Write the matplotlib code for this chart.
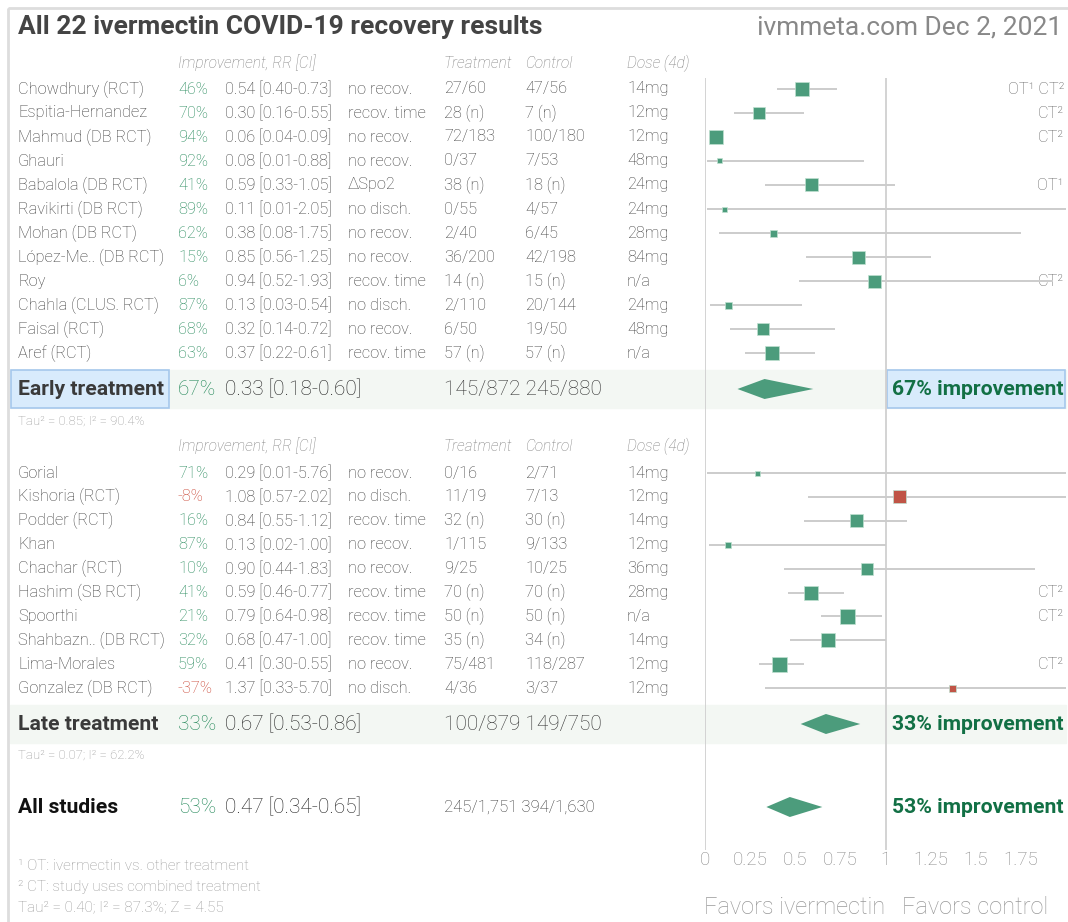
import matplotlib
matplotlib.use("Agg")
import matplotlib.pyplot as plt
from matplotlib.patches import Rectangle

plt.rcParams['font.family'] = ['Roboto', 'DejaVu Sans']

# ---- data ----
early_names = ['Chowdhury (RCT)', 'Espitia-Hernandez', 'Mahmud (DB RCT)', 'Ghauri',
               'Babalola (DB RCT)', 'Ravikirti (DB RCT)', 'Mohan (DB RCT)',
               'López-Me.. (DB RCT)', 'Roy', 'Chahla (CLUS. RCT)', 'Faisal (RCT)', 'Aref (RCT)']
early_pct = [46, 70, 94, 92, 41, 89, 62, 15, 6, 87, 68, 63]
early_rr = [0.54, 0.30, 0.06, 0.08, 0.59, 0.11, 0.38, 0.85, 0.94, 0.13, 0.32, 0.37]
early_lo = [0.40, 0.16, 0.04, 0.01, 0.33, 0.01, 0.08, 0.56, 0.52, 0.03, 0.14, 0.22]
early_hi = [0.73, 0.55, 0.09, 0.88, 1.05, 2.05, 1.75, 1.25, 1.93, 0.54, 0.72, 0.61]
early_outcome = ['no recov.', 'recov. time', 'no recov.', 'no recov.', 'ΔSpo2', 'no disch.',
                 'no recov.', 'no recov.', 'recov. time', 'no disch.', 'no recov.', 'recov. time']
early_treat = ['27/60', '28 (n)', '72/183', '0/37', '38 (n)', '0/55', '2/40', '36/200',
               '14 (n)', '2/110', '6/50', '57 (n)']
early_ctrl = ['47/56', '7 (n)', '100/180', '7/53', '18 (n)', '4/57', '6/45', '42/198',
              '15 (n)', '20/144', '19/50', '57 (n)']
early_dose = ['14mg', '12mg', '12mg', '48mg', '24mg', '24mg', '28mg', '84mg', 'n/a',
              '24mg', '48mg', 'n/a']
early_notes = ['OT¹ CT²', 'CT²', 'CT²', '', 'OT¹', '', '', '', 'CT²', '', '', '']
early_box = [14, 12, 14, 5, 13, 5, 7, 13, 13, 7, 12, 14]

late_names = ['Gorial', 'Kishoria (RCT)', 'Podder (RCT)', 'Khan', 'Chachar (RCT)',
              'Hashim (SB RCT)', 'Spoorthi', 'Shahbazn.. (DB RCT)', 'Lima-Morales',
              'Gonzalez (DB RCT)']
late_pct = [71, -8, 16, 87, 10, 41, 21, 32, 59, -37]
late_rr = [0.29, 1.08, 0.84, 0.13, 0.90, 0.59, 0.79, 0.68, 0.41, 1.37]
late_lo = [0.01, 0.57, 0.55, 0.02, 0.44, 0.46, 0.64, 0.47, 0.30, 0.33]
late_hi = [5.76, 2.02, 1.12, 1.00, 1.83, 0.77, 0.98, 1.00, 0.55, 5.70]
late_outcome = ['no recov.', 'no disch.', 'recov. time', 'no recov.', 'no recov.',
                'recov. time', 'recov. time', 'recov. time', 'no recov.', 'no disch.']
late_treat = ['0/16', '11/19', '32 (n)', '1/115', '9/25', '70 (n)', '50 (n)', '35 (n)',
              '75/481', '4/36']
late_ctrl = ['2/71', '7/13', '30 (n)', '9/133', '10/25', '70 (n)', '50 (n)', '34 (n)',
             '118/287', '3/37']
late_dose = ['14mg', '12mg', '14mg', '12mg', '36mg', '28mg', 'n/a', '14mg', '12mg', '12mg']
late_notes = ['', '', '', '', '', 'CT²', 'CT²', '', 'CT²', '']
late_box = [5, 13, 13, 6, 12, 14, 15, 14, 15, 7]

summary_names = ['Early treatment', 'Late treatment', 'All studies']
summary_pct = [67, 33, 53]
summary_rr = [0.33, 0.67, 0.47]
summary_lo = [0.18, 0.53, 0.34]
summary_hi = [0.60, 0.86, 0.65]
summary_counts = ['145/872 245/880', '100/879 149/750', '245/1,751 394/1,630']
summary_tau = ['Tau² = 0.85; I² = 90.4%', 'Tau² = 0.07; I² = 62.2%']

ticks = [0, 0.25, 0.5, 0.75, 1, 1.25, 1.5, 1.75]
tick_labels = ['0', '0.25', '0.5', '0.75', '1', '1.25', '1.5', '1.75']

# ---- colours ----
GREEN = '#4c9c7c'
GREEN_TXT = '#1f8656'
DARK_GREEN = '#127045'
RED = '#c05446'
RED_TXT = '#c8402f'
GREY = '#3c3c3c'
LIGHT = '#cccccc'
FS = 11.8

fig = plt.figure(figsize=(10.68, 9.22), dpi=100)
ax = fig.add_axes([0, 0, 1, 1])
ax.set_xlim(0, 1068)
ax.set_ylim(922, 0)
ax.axis('off')

# forest axes: RR scale
fx = fig.add_axes([705 / 1068, 0, (1066 - 705) / 1068, 1])
fx.set_xlim(0, 2.0)
fx.set_ylim(922, 0)
fx.axis('off')
fx.patch.set_alpha(0)

# frame
ax.add_patch(Rectangle((8, 8), 1070, 930, fill=False, edgecolor='#dddddd', lw=2))

ax.text(18, 27, 'All 22 ivermectin COVID-19 recovery results', fontsize=19,
        fontweight='bold', color='#444444', va='center')
ax.text(1062, 27, 'ivmmeta.com Dec 2, 2021', fontsize=19, color='#888888',
        va='center', ha='right')

COLX = [18, 178, 225, 348, 444, 525, 627]


def header(y):
    for x, s in zip([178, 444, 525, 627],
                    ['Improvement, RR [CI]', 'Treatment', 'Control', 'Dose (4d)']):
        ax.text(x, y, s, fontsize=11.2, style='italic', color='#808080', va='center',
                fontweight='light')


def rows(ys, names, pct, rr, lo, hi, outcome, treat, ctrl, dose, notes, box):
    kw = dict(fontsize=FS, va='center', fontweight='light')
    for i, y in enumerate(ys):
        ax.text(COLX[0], y, names[i], color=GREY, **kw)
        ax.text(COLX[1], y, '%d%%' % pct[i],
                color=GREEN_TXT if pct[i] >= 0 else RED_TXT, **kw)
        ax.text(COLX[2], y, '%.2f [%.2f-%.2f]' % (rr[i], lo[i], hi[i]), color=GREY, **kw)
        ax.text(COLX[3], y, outcome[i], color=GREY, **kw)
        ax.text(COLX[4], y, treat[i], color=GREY, **kw)
        ax.text(COLX[5], y, ctrl[i], color=GREY, **kw)
        ax.text(COLX[6], y, dose[i], color=GREY, **kw)
        if notes[i]:
            ax.text(1064, y, notes[i], color='#666666', ha='right', **kw)
    fx.hlines(ys, lo, hi, color=LIGHT, lw=1.4, zorder=2)
    cols = [GREEN if r < 1 else RED for r in rr]
    fx.scatter(rr, ys, marker='s', s=[(b * 0.72) ** 2 for b in box], c=cols,
               edgecolors='#bfe0d0', linewidths=0.5, zorder=3)


early_y = [89 + 24 * i for i in range(len(early_names))]
late_y = [473 + 23.9 * i for i in range(len(late_names))]
sum_y = [389, 724, 807]

# vertical reference lines
fx.vlines([0, 1], 78, 850, color='#d0d0d0', lw=1.3, zorder=1)

# summary bands
for y in sum_y[:2]:
    ax.add_patch(Rectangle((10, y - 19), 1056, 38, color='#f3f7f3', zorder=0))
ax.add_patch(Rectangle((11, sum_y[0] - 19), 158, 38, facecolor='#d8ebfc',
                       edgecolor='#a5c8ec', lw=1.2, zorder=1))
ax.add_patch(Rectangle((887, sum_y[0] - 19), 178, 38, facecolor='#d8ebfc',
                       edgecolor='#a5c8ec', lw=1.2, zorder=1))

header(63)
rows(early_y, early_names, early_pct, early_rr, early_lo, early_hi, early_outcome,
     early_treat, early_ctrl, early_dose, early_notes, early_box)
header(446)
rows(late_y, late_names, late_pct, late_rr, late_lo, late_hi, late_outcome,
     late_treat, late_ctrl, late_dose, late_notes, late_box)

for i, y in enumerate(sum_y):
    ax.text(18, y, summary_names[i], fontsize=15.2, fontweight='bold',
            color='#111111' if i == 2 else '#3a3a3a', va='center', zorder=3)
    ax.text(178, y, '%d%%' % summary_pct[i], fontsize=15, color=GREEN_TXT, va='center',
            fontweight='light')
    ax.text(225, y, '%.2f [%.2f-%.2f]' % (summary_rr[i], summary_lo[i], summary_hi[i]),
            fontsize=15, color='#222222', va='center', fontweight='light')
    ax.text(444, y, summary_counts[i], fontsize=15 if i < 2 else 12, color='#333333',
            va='center', fontweight='light')
    ax.text(1064, y, '%d%% improvement' % summary_pct[i], fontsize=15.2, fontweight='bold',
            color=DARK_GREEN, va='center', ha='right', zorder=3)
    fx.fill([summary_lo[i], summary_rr[i], summary_hi[i], summary_rr[i]],
            [y, y - 10, y, y + 10], color=GREEN, lw=0, zorder=3)

ax.text(18, 421, summary_tau[0], fontsize=9.5, color='#999999', va='center', fontweight='light')
ax.text(18, 755, summary_tau[1], fontsize=9.5, color='#999999', va='center', fontweight='light')

# axis tick labels
for t, lab in zip(ticks, tick_labels):
    fx.text(t, 860, lab, fontsize=13.5, color='#888888', ha='center', va='center',
            fontweight='light')
ax.text(885, 907, 'Favors ivermectin', fontsize=17, color='#999999', ha='right',
        va='center', fontweight='light')
ax.text(902, 907, 'Favors control', fontsize=17, color='#999999', ha='left',
        va='center', fontweight='light')

# footnotes
ax.text(18, 866, '¹ OT: ivermectin vs. other treatment', fontsize=11, color='#999999',
        va='center', fontweight='light')
ax.text(18, 887, '² CT: study uses combined treatment', fontsize=11, color='#999999',
        va='center', fontweight='light')
ax.text(18, 907, 'Tau² = 0.40; I² = 87.3%; Z = 4.55', fontsize=11, color='#999999',
        va='center', fontweight='light')

fig.savefig('out.png', dpi=100)
